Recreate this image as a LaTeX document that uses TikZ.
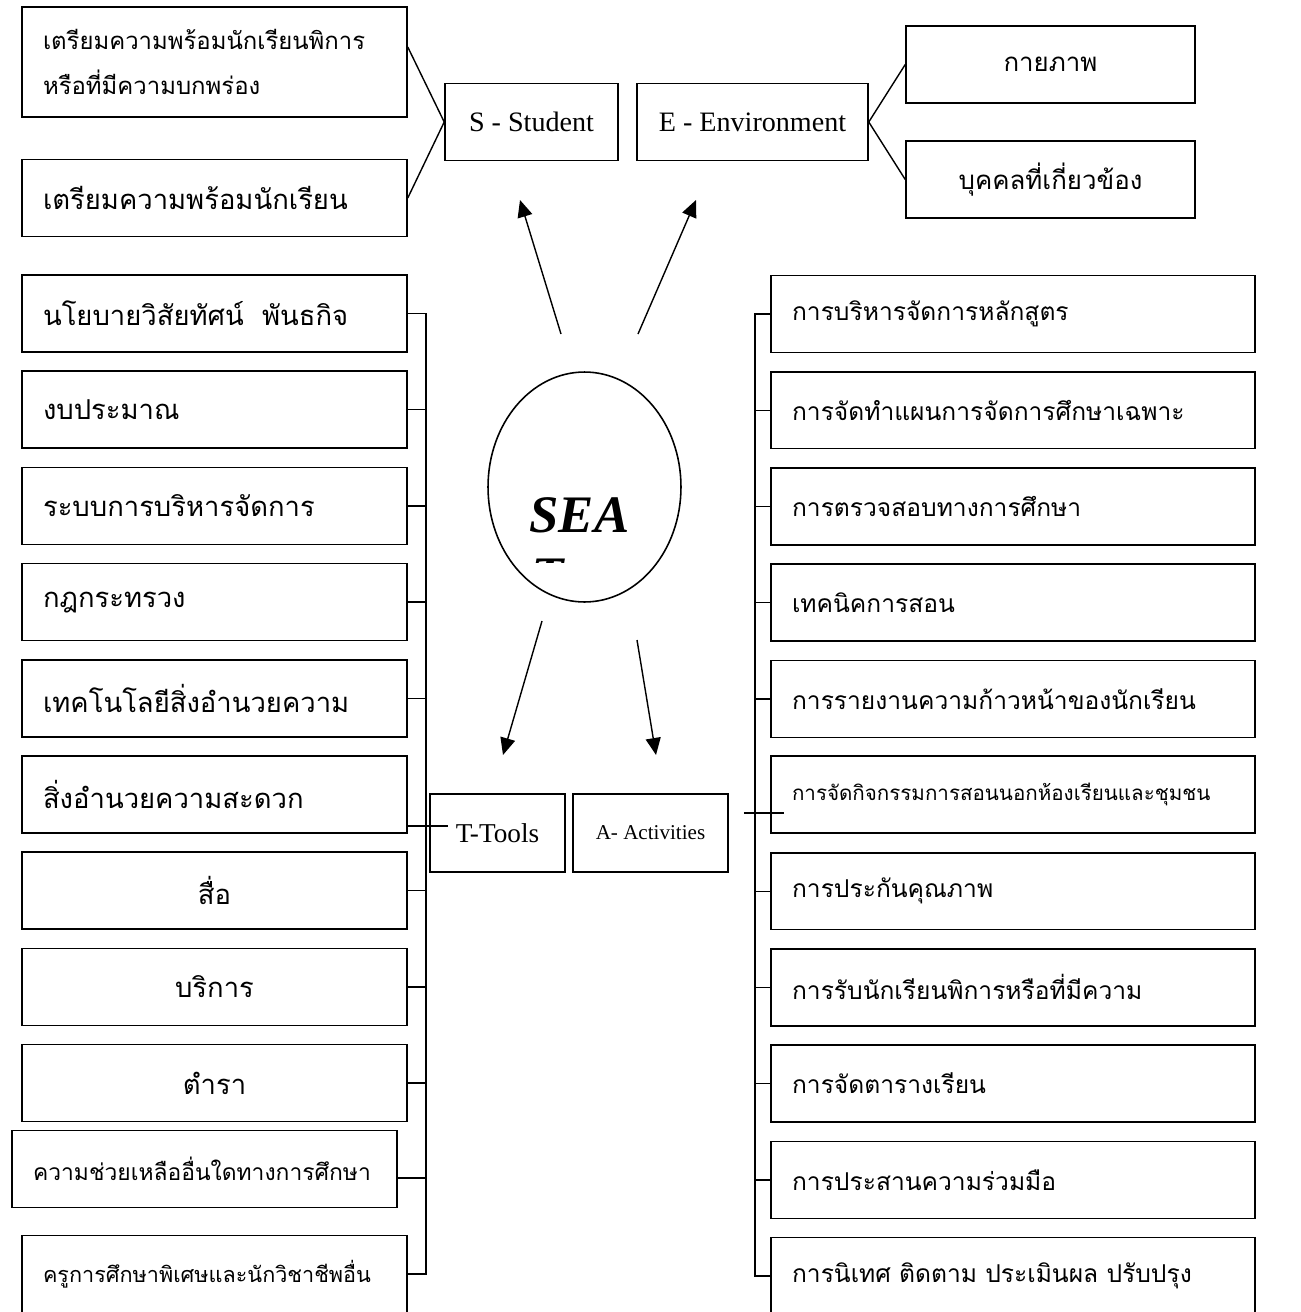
\documentclass[tikz,border=0pt]{standalone}
\usepackage{fontspec}
\setmainfont{Liberation Serif}
\newfontfamily\thai[Script=Thai]{Loma}
\usetikzlibrary{shapes.geometric,arrows.meta}

\begin{document}
\begin{tikzpicture}
[
    x=0.02cm, y=-0.02cm,
    every node/.style={line width=0.9pt},
    box/.style={draw, rectangle, inner xsep=0.42cm, inner ysep=0pt, minimum height=1.54cm, align=left, font=\thai\fontsize{15.6}{19}\selectfont},
    lbox/.style={box, text width=6.86cm},
    rbox/.style={box, text width=8.84cm, font=\thai\fontsize{14}{18}\selectfont},
    tbox/.style={box, text width=4.94cm, align=center, font=\thai\fontsize{14.7}{18}\selectfont},
    letter/.style={draw, rectangle, inner sep=0pt, minimum height=1.54cm, font=\fontsize{16}{19}\selectfont},
    arr/.style={-{Triangle[length=0.34cm, width=0.3cm]}, line width=0.8pt},
    wire/.style={line width=0.8pt},
]
\useasboundingbox (0,0) rectangle (1301,1312);

% S and E
\node [letter, minimum width=3.46cm] (stu) at (531.5,122) {S - Student};
\node [letter, minimum width=4.62cm] (env) at (752.5,122) {E - Environment};
\node [box, text width=6.86cm, minimum height=2.2cm, font=\thai\fontsize{13.6}{25.6}\selectfont] (tl1) at (214.5,62)
{เตรียมความพร้อมนักเรียนพิการ\\หรือที่มีความบกพร่อง};
\node [lbox] (tl2) at (214.5,198) {เตรียมความพร้อมนักเรียน};
\node [tbox] (tr1) at (1050.5,64.5) {กายภาพ};
\node [tbox] (tr2) at (1050.5,179.5) {บุคคลที่เกี่ยวข้อง};
\draw [wire] ([yshift=0.3cm]tl1.east) -- (stu.west) -- (tl2.east);
\draw [wire] (tr1.west) -- (env.east) -- (tr2.west);

% centre
\node [draw, ellipse, inner sep=0pt, minimum width=3.86cm, minimum height=4.6cm] (sea) at (584.5,487) {};
\node [anchor=base, font=\bfseries\itshape\fontsize{30}{36}\selectfont] (seatxt) at (579.5,532) {SEA};
\begin{scope}
\clip (520,550) rectangle (600,562);
\node [anchor=base west, inner sep=0pt, font=\bfseries\itshape\fontsize{30}{36}\selectfont] (seat) at (531,593) {T};
\end{scope}
\coordinate (s0) at (561,334); \coordinate (s1) at (520,200);
\coordinate (e0) at (638,334); \coordinate (e1) at (696,200);
\coordinate (t0) at (542,621); \coordinate (t1) at (503,755);
\coordinate (a0) at (637,640); \coordinate (a1) at (656,755);
\draw [arr] (s0) -- (s1);
\draw [arr] (e0) -- (e1);
\draw [arr] (t0) -- (t1);
\draw [arr] (a0) -- (a1);

\node [letter, minimum width=2.7cm, minimum height=1.56cm, font=\fontsize{15.5}{18}\selectfont] (tools) at (497.5,833) {T-Tools};
\node [letter, minimum width=3.1cm, minimum height=1.56cm, font=\fontsize{12}{14}\selectfont] (act) at (650.5,833) {A- Activities};

% T column
\foreach \n/\txt in {1/นโยบายวิสัยทัศน์\ \ พันธกิจ, 2/งบประมาณ, 3/ระบบการบริหารจัดการ, 4/กฎกระทรวง, 5/เทคโนโลยีสิ่งอำนวยความ, 6/สิ่งอำนวยความสะดวก}
    \node [lbox] (l\n) at (214.5,{313.5+96.2*(\n-1)}) {\txt};
\foreach \n/\txt in {7/สื่อ, 8/บริการ, 9/ตำรา}
    \node [lbox, align=center] (l\n) at (214.5,{313.5+96.2*(\n-1)}) {\txt};
\node [lbox, font=\thai\fontsize{13}{16}\selectfont] (l10) at (204.5,1169) {ความช่วยเหลืออื่นใดทางการศึกษา};
\node [lbox, font=\thai\fontsize{12.3}{16}\selectfont] (l11) at (214.5,1274) {ครูการศึกษาพิเศษและนักวิชาชีพอื่น};

\coordinate (lbus) at (426,0);
\draw [wire] (l1.east) -- (l1.east -| lbus) -- (lbus |- l11.east) -- (l11.east);
\foreach \n in {2,3,4,5,7,8,9}
    \draw [wire] (l\n.east) -- (l\n.east -| lbus);
\draw [wire] ([yshift=-0.18cm]l10.east) -- ([yshift=-0.18cm]l10.east -| lbus);
\draw [wire] ([yshift=-0.63cm]l6.east) -- ++(40,0);

% A column
\foreach \n/\txt in {1/การบริหารจัดการหลักสูตร, 2/การจัดทำแผนการจัดการศึกษาเฉพาะ, 3/การตรวจสอบทางการศึกษา, 4/เทคนิคการสอน, 5/การรายงานความก้าวหน้าของนักเรียน, 7/การประกันคุณภาพ, 8/การรับนักเรียนพิการหรือที่มีความ, 9/การจัดตารางเรียน, 10/การประสานความร่วมมือ, 11/การนิเทศ ติดตาม ประเมินผล ปรับปรุง}
    \node [rbox] (r\n) at (1013,{314+96.2*(\n-1)}) {\txt};
\node [rbox, font=\thai\fontsize{11.7}{15}\selectfont] (r6) at (1013,794.5) {การจัดกิจกรรมการสอนนอกห้องเรียนและชุมชน};

\coordinate (rbus) at (755,0);
\draw [wire] (r1.west) -- (r1.west -| rbus) -- (rbus |- r11.west) -- (r11.west);
\foreach \n in {2,3,4,5,7,8,9,10}
    \draw [wire] (r\n.west) -- (r\n.west -| rbus);
\draw [wire] ([xshift=0.3cm,yshift=0.4cm]act.east) -- ++(40,0);
\end{tikzpicture}
\end{document}
